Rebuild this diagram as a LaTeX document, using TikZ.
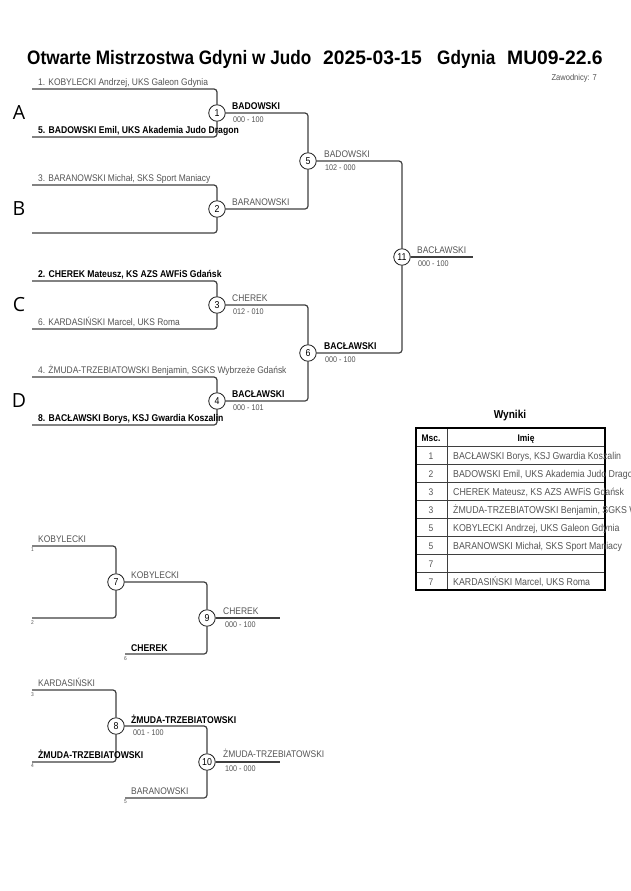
\documentclass[tikz,border=0pt]{standalone}
\usepackage{fontspec}
\setmainfont{Liberation Sans}[FakeStretch=0.88]
\newfontfamily\poolfont{Open Sans}
\newfontfamily\digitfont{Liberation Sans}[FakeStretch=0.99]
\usepackage{tikz}
\usetikzlibrary{positioning}

\definecolor{linegrey}{HTML}{3F3F3F}
\definecolor{textgrey}{HTML}{555555}

\tikzset{
    line/.style={draw=linegrey, line width=1.2pt, rounded corners=3pt},
    match/.style={circle, draw=black!90, fill=white, line width=0.8pt, minimum size=16.5pt, inner sep=0pt, font=\fontsize{10}{12}\selectfont},
    entrant/.style={anchor=base west, inner sep=0pt, text=textgrey, font=\fontsize{9.6}{11}\selectfont},
    winner/.style={anchor=base west, inner sep=0pt, text=black, font=\fontsize{9.8}{11}\selectfont\bfseries},
    score/.style={anchor=base west, inner sep=0pt, text=textgrey, font=\fontsize{8.2}{10}\selectfont},
    seed/.style={anchor=north west, inner sep=0pt, text=textgrey, font=\fontsize{5.5}{6}\selectfont},
    pool/.style={inner sep=0pt, font=\poolfont\fontsize{19.5}{22}\selectfont},
    titletext/.style={anchor=base west, inner sep=0pt, font=\fontsize{19.5}{22}\selectfont\bfseries},
    cell/.style={anchor=base west, inner sep=0pt, text=textgrey, font=\fontsize{10}{11}\selectfont},
}

\begin{document}
\begin{tikzpicture}[x=1pt, y=-1pt]
    % page
    \fill[white] (0,0) rectangle (630,891);
    \useasboundingbox (0,0) rectangle (630,891);

    % title
    \node[titletext] (title1) at (27,65) {Otwarte Mistrzostwa Gdyni w Judo};
    \node[titletext, font=\digitfont\fontsize{19.5}{22}\selectfont\bfseries] (title2) at (323,65) {2025-03-15};
    \node[titletext] (title3) at (437,65) {Gdynia};
    \node[titletext, font=\digitfont\fontsize{19.5}{22}\selectfont\bfseries] (title4) at (507,65) {MU09-22.6};
    \node[anchor=base east, inner sep=0pt, text=textgrey, font=\fontsize{8.6}{10}\selectfont] (count) at (597,80.5) {Zawodnicy: 7};

    % pool letters
    \node[pool] (poolA) at (19,113) {A};
    \node[pool] (poolB) at (19,209) {B};
    \node[pool] (poolC) at (19,305) {C};
    \node[pool] (poolD) at (19,401) {D};

    % start of the lines of the main bracket
    \coordinate (p1) at (32,89);
    \coordinate (p5) at (32,137);
    \coordinate (p3) at (32,185);
    \coordinate (p0) at (32,233);
    \coordinate (p2) at (32,281);
    \coordinate (p6) at (32,329);
    \coordinate (p4) at (32,377);
    \coordinate (p8) at (32,425);
    \coordinate (f11) at (473,257);

    % the fights of the main bracket
    \node[match] (m1) at (217,113) {1};
    \node[match] (m2) at (217,209) {2};
    \node[match] (m3) at (217,305) {3};
    \node[match] (m4) at (217,401) {4};
    \node[match] (m5) at (308,161) {5};
    \node[match] (m6) at (308,353) {6};
    \node[match] (m11) at (402,257) {11};

    % draw the lines of the main bracket
    \draw[line] (p1) -| (m1);
    \draw[line] (p5) -| (m1);
    \draw[line] (p3) -| (m2);
    \draw[line] (p0) -| (m2);
    \draw[line] (p2) -| (m3);
    \draw[line] (p6) -| (m3);
    \draw[line] (p4) -| (m4);
    \draw[line] (p8) -| (m4);
    \draw[line] (m1) -| (m5);
    \draw[line] (m2) -| (m5);
    \draw[line] (m3) -| (m6);
    \draw[line] (m4) -| (m6);
    \draw[line] (m5) -| (m11);
    \draw[line] (m6) -| (m11);
    \draw[line] (m11) -- (f11);

    % the entrants
    \node[entrant] (e1) at (38,85) {1. KOBYLECKI Andrzej, UKS Galeon Gdynia};
    \node[winner] (e5) at (38,133) {5. BADOWSKI Emil, UKS Akademia Judo Dragon};
    \node[entrant] (e3) at (38,181) {3. BARANOWSKI Michał, SKS Sport Maniacy};
    \node[winner] (e2) at (38,277) {2. CHEREK Mateusz, KS AZS AWFiS Gdańsk};
    \node[entrant] (e6) at (38,325) {6. KARDASIŃSKI Marcel, UKS Roma};
    \node[entrant] (e4) at (38,373) {4. ŻMUDA-TRZEBIATOWSKI Benjamin, SGKS Wybrzeże Gdańsk};
    \node[winner] (e8) at (38,421) {8. BACŁAWSKI Borys, KSJ Gwardia Koszalin};

    % winners and scores of the main bracket
    \node[winner] (w1) at (232,109) {BADOWSKI};
    \node[score] (s1) at (233,122) {000 - 100};
    \node[entrant] (w2) at (232,205) {BARANOWSKI};
    \node[entrant] (w3) at (232,301) {CHEREK};
    \node[score] (s3) at (233,314) {012 - 010};
    \node[winner] (w4) at (232,397) {BACŁAWSKI};
    \node[score] (s4) at (233,410) {000 - 101};
    \node[entrant] (w5) at (324,157) {BADOWSKI};
    \node[score] (s5) at (325,170) {102 - 000};
    \node[winner] (w6) at (324,349) {BACŁAWSKI};
    \node[score] (s6) at (325,362) {000 - 100};
    \node[entrant] (w11) at (417,253) {BACŁAWSKI};
    \node[score] (s11) at (418,266) {000 - 100};

    % results
    \node[font=\fontsize{11.5}{13}\selectfont\bfseries, inner sep=0pt] (results) at (510,416) {Wyniki};
    \foreach \yy in {446,464,...,572}
        \draw[linegrey, line width=0.6pt] (416,\yy) -- (605,\yy);
    \draw[linegrey, line width=0.6pt] (447,428) -- (447,590);
    \draw[black, line width=1.6pt] (416,428) rectangle (605,590);
    \node[anchor=base, inner sep=0pt, font=\fontsize{9.6}{11}\selectfont\bfseries] (msc) at (431,441) {Msc.};
    \node[anchor=base, inner sep=0pt, font=\fontsize{9.6}{11}\selectfont\bfseries] (imie) at (526,441) {Imię};
    \foreach \rank/\who [count=\i] in {1/{BACŁAWSKI Borys, KSJ Gwardia Koszalin},
                                        2/{BADOWSKI Emil, UKS Akademia Judo Dragon},
                                        3/{CHEREK Mateusz, KS AZS AWFiS Gdańsk},
                                        3/{ŻMUDA-TRZEBIATOWSKI Benjamin, SGKS Wybrzeże Gdańsk},
                                        5/{KOBYLECKI Andrzej, UKS Galeon Gdynia},
                                        5/{BARANOWSKI Michał, SKS Sport Maniacy},
                                        7/{},
                                        7/{KARDASIŃSKI Marcel, UKS Roma}} {
        \node[anchor=base, inner sep=0pt, text=textgrey, font=\fontsize{9.6}{11}\selectfont] (rank\i) at (431,441+18*\i) {\rank};
        \node[cell] (who\i) at (453,441+18*\i) {\who};
    }

    % repechage lines
    \coordinate (r1) at (32,546);
    \coordinate (r2) at (32,618);
    \coordinate (r6) at (125,654);
    \coordinate (r3) at (32,690);
    \coordinate (r4) at (32,762);
    \coordinate (r5) at (125,798);
    \coordinate (f9) at (280,618);
    \coordinate (f10) at (280,762);

    % the repechage fights
    \node[match] (m7) at (116,582) {7};
    \node[match] (m8) at (116,726) {8};
    \node[match] (m9) at (207,618) {9};
    \node[match] (m10) at (207,762) {10};

    % draw the repechage lines
    \draw[line] (r1) -| (m7);
    \draw[line] (r2) -| (m7);
    \draw[line] (m7) -| (m9);
    \draw[line] (r6) -| (m9);
    \draw[line] (m9) -- (f9);
    \draw[line] (r3) -| (m8);
    \draw[line] (r4) -| (m8);
    \draw[line] (m8) -| (m10);
    \draw[line] (r5) -| (m10);
    \draw[line] (m10) -- (f10);

    % repechage names and seeds
    \node[entrant] (q1) at (38,542) {KOBYLECKI};
    \node[seed] (n1) at (31,548) {1};
    \node[seed] (n2) at (31,620) {2};
    \node[winner] (q6) at (131,651) {CHEREK};
    \node[seed] (n6) at (124,656) {6};
    \node[entrant] (q3) at (38,686) {KARDASIŃSKI};
    \node[seed] (n3) at (31,692) {3};
    \node[winner] (q4) at (38,758) {ŻMUDA-TRZEBIATOWSKI};
    \node[seed] (n4) at (31,764) {4};
    \node[entrant] (q5) at (131,794) {BARANOWSKI};
    \node[seed] (n5) at (124,800) {5};

    % repechage winners and scores
    \node[entrant] (w7) at (131,578) {KOBYLECKI};
    \node[entrant] (w9) at (223,614) {CHEREK};
    \node[score] (s9) at (225,627) {000 - 100};
    \node[winner] (w8) at (131,723) {ŻMUDA-TRZEBIATOWSKI};
    \node[score] (s8) at (133,735) {001 - 100};
    \node[entrant] (w10) at (223,757) {ŻMUDA-TRZEBIATOWSKI};
    \node[score] (s10) at (225,771) {100 - 000};

\end{tikzpicture}
\end{document}
